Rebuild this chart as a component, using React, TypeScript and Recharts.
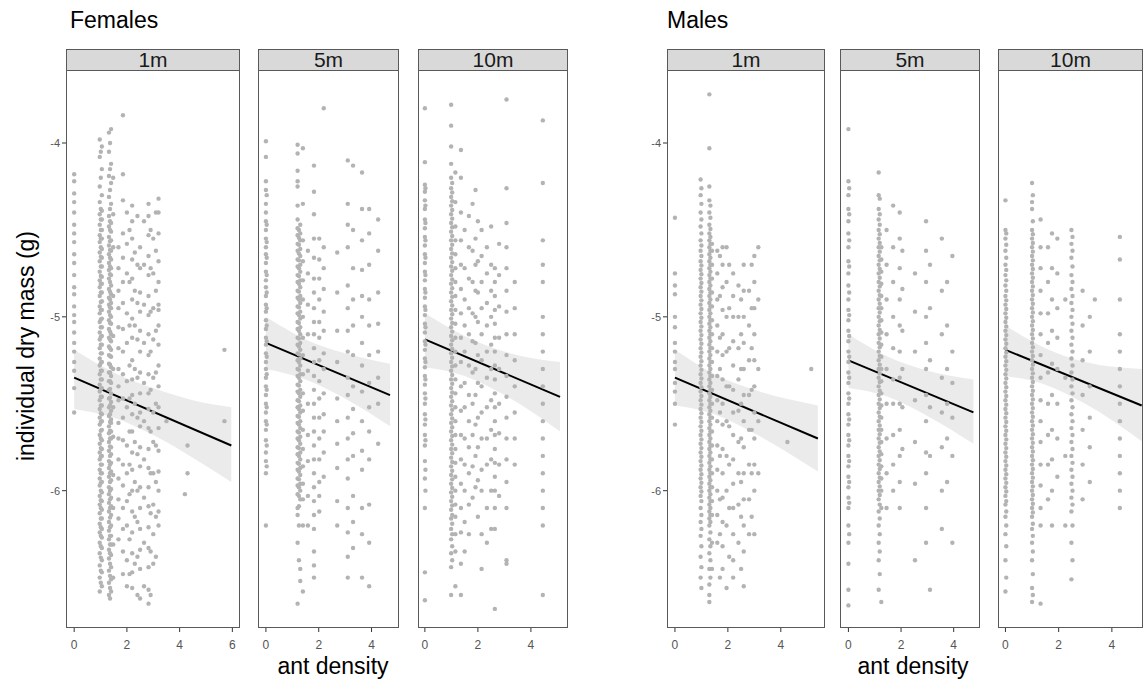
import { ComposedChart, Scatter, Line, Area, XAxis, YAxis } from 'recharts';

type Col = { x: number; y: number[] };

// ant density columns with individual dry mass values
const femalesOneM: Col[] = [
    { x: 0, y: [-4.18, -4.22, -4.29, -4.34, -4.4, -4.47, -4.52, -4.57, -4.64, -4.69, -4.76, -4.83, -4.87, -4.94, -4.99, -5.03, -5.09, -5.15, -5.2, -5.26, -5.31, -5.41, -5.55] },
    { x: 0.97, y: [-3.98, -4.08, -4.25, -4.34, -4.41, -4.47, -4.53, -4.57, -4.63, -4.68, -4.74, -4.79, -4.83, -4.88, -4.94, -4.98, -5.03, -5.09, -5.13, -5.18, -5.24, -5.28, -5.33, -5.39, -5.43, -5.48, -5.53, -5.58, -5.62, -5.68, -5.73, -5.78, -5.82, -5.88, -5.93, -5.97, -6.03, -6.08, -6.13, -6.19, -6.24, -6.3, -6.36, -6.43, -6.5, -6.58] },
    { x: 1.01, y: [-4.05, -4.2, -4.38, -4.44, -4.5, -4.55, -4.6, -4.655, -4.71, -4.765, -4.81, -4.86, -4.915, -4.96, -5.015, -5.06, -5.115, -5.16, -5.21, -5.265, -5.31, -5.36, -5.415, -5.46, -5.51, -5.555, -5.605, -5.655, -5.7, -5.755, -5.805, -5.85, -5.9, -5.955, -6.0, -6.055, -6.1, -6.16, -6.21, -6.26, -6.32, -6.385, -6.46, -6.53] },
    { x: 1.05, y: [-4.02, -4.15, -4.3, -4.39, -4.44, -4.5, -4.55, -4.61, -4.66, -4.71, -4.77, -4.81, -4.86, -4.91, -4.96, -5.01, -5.06, -5.11, -5.16, -5.21, -5.26, -5.31, -5.36, -5.41, -5.46, -5.51, -5.56, -5.6, -5.65, -5.71, -5.76, -5.8, -5.85, -5.9, -5.95, -6.01, -6.06, -6.11, -6.16, -6.22, -6.27, -6.33, -6.4, -6.47, -6.55] },
    { x: 1.32, y: [-3.94, -4.05, -4.19, -4.31, -4.42, -4.48, -4.54, -4.59, -4.64, -4.69, -4.73, -4.78, -4.84, -4.89, -4.93, -4.97, -5.02, -5.07, -5.12, -5.17, -5.22, -5.27, -5.32, -5.37, -5.42, -5.47, -5.52, -5.57, -5.63, -5.67, -5.72, -5.77, -5.83, -5.87, -5.92, -5.98, -6.02, -6.07, -6.12, -6.18, -6.23, -6.28, -6.34, -6.39, -6.46, -6.53, -6.6] },
    { x: 1.36, y: [-4.0, -4.15, -4.27, -4.38, -4.45, -4.5, -4.565, -4.615, -4.66, -4.71, -4.755, -4.8, -4.855, -4.9, -4.945, -4.99, -5.035, -5.085, -5.13, -5.18, -5.225, -5.275, -5.32, -5.37, -5.415, -5.465, -5.51, -5.56, -5.605, -5.655, -5.7, -5.745, -5.8, -5.85, -5.9, -5.95, -6.0, -6.05, -6.1, -6.155, -6.21, -6.26, -6.31, -6.36, -6.42, -6.49, -6.56, -6.62] },
    { x: 1.4, y: [-3.92, -4.12, -4.23, -4.35, -4.46, -4.51, -4.56, -4.62, -4.67, -4.72, -4.76, -4.82, -4.87, -4.92, -4.95, -5.0, -5.04, -5.1, -5.14, -5.19, -5.23, -5.29, -5.34, -5.38, -5.44, -5.49, -5.54, -5.59, -5.61, -5.66, -5.7, -5.75, -5.79, -5.84, -5.89, -5.94, -5.99, -6.04, -6.09, -6.14, -6.2, -6.26, -6.31, -6.37, -6.44, -6.51, -6.58] },
    { x: 1.48, y: [-4.2, -4.41, -4.6, -4.88, -5.11, -5.3, -5.52, -5.69, -5.91, -6.1, -6.31, -6.5] },
    { x: 1.68, y: [-4.6, -4.72, -4.85, -4.95, -5.06, -5.18, -5.3, -5.4, -5.48, -5.61, -5.7, -5.82, -5.93, -6.05, -6.16, -6.28] },
    { x: 1.85, y: [-3.84, -4.18, -4.33, -4.52, -4.66, -4.8, -4.92, -5.07, -5.2, -5.33, -5.47, -5.58, -5.71, -5.85, -5.97, -6.1, -6.22, -6.35, -6.48] },
    { x: 2.0, y: [-4.4, -4.58, -4.75, -4.98, -5.15, -5.37, -5.52, -5.74, -5.9, -6.06, -6.2, -6.4, -6.55] },
    { x: 2.1, y: [-4.5, -4.8, -5.05, -5.28, -5.47, -5.66, -5.85, -6.02, -6.28, -6.48] },
    { x: 2.2, y: [-4.36, -4.45, -4.55, -4.67, -4.78, -4.9, -5.01, -5.12, -5.25, -5.36, -5.45, -5.56, -5.66, -5.78, -5.88, -6.0, -6.12, -6.24, -6.36, -6.47, -6.56] },
    { x: 2.3, y: [-4.63, -4.85, -5.05, -5.3, -5.5, -5.72, -5.95, -6.15, -6.42] },
    { x: 2.4, y: [-4.42, -4.7, -4.92, -5.13, -5.35, -5.58, -5.79, -6.0, -6.18, -6.38, -6.6] },
    { x: 2.5, y: [-4.6, -4.72, -4.86, -4.97, -5.08, -5.2, -5.32, -5.44, -5.55, -5.63, -5.75, -5.86, -5.98, -6.1, -6.22, -6.34, -6.45, -6.62] },
    { x: 2.65, y: [-4.45, -4.7, -4.93, -5.15, -5.38, -5.6, -5.82, -6.04, -6.3, -6.55] },
    { x: 2.82, y: [-4.35, -4.42, -4.53, -4.65, -4.76, -4.88, -4.99, -5.1, -5.22, -5.33, -5.44, -5.53, -5.64, -5.76, -5.87, -5.98, -6.09, -6.21, -6.33, -6.44, -6.57, -6.65] },
    { x: 2.9, y: [-4.5, -4.72, -4.97, -5.2, -5.42, -5.66, -5.9, -6.13, -6.35, -6.6] },
    { x: 3.0, y: [-4.55, -4.75, -4.95, -5.13, -5.35, -5.55, -5.72, -5.9, -6.08, -6.25, -6.42] },
    { x: 3.1, y: [-4.4, -4.62, -4.85, -5.08, -5.32, -5.5, -5.74, -5.95, -6.15, -6.38] },
    { x: 3.2, y: [-4.32, -4.4, -4.52, -4.68, -4.8, -4.93, -4.96, -5.05, -5.16, -5.28, -5.4, -5.52, -5.64, -5.77, -5.89, -6.0, -6.12, -6.2] },
    { x: 3.5, y: [-5.6] },
    { x: 4.2, y: [-6.02] },
    { x: 4.3, y: [-5.74, -5.9] },
    { x: 5.7, y: [-5.19, -5.6] },
];

const femalesFiveM: Col[] = [
    { x: 0, y: [-3.99, -4.08, -4.22, -4.27, -4.35, -4.4, -4.45, -4.5, -4.55, -4.6, -4.64, -4.69, -4.74, -4.79, -4.83, -4.88, -4.93, -4.97, -5.02, -5.07, -5.12, -5.16, -5.21, -5.26, -5.3, -5.35, -5.4, -5.45, -5.5, -5.55, -5.6, -5.65, -5.71, -5.78, -5.83, -5.9, -6.2] },
    { x: 0.03, y: [-4.3, -4.47, -4.57, -4.66, -4.76, -4.86, -4.95, -5.05, -5.14, -5.23, -5.33, -5.42, -5.52, -5.62, -5.74, -5.86] },
    { x: 1.2, y: [-4.01, -4.06, -4.16, -4.22, -4.25, -4.36, -4.44, -4.49, -4.53, -4.58, -4.62, -4.67, -4.71, -4.76, -4.8, -4.85, -4.89, -4.94, -4.98, -5.03, -5.07, -5.12, -5.16, -5.21, -5.25, -5.3, -5.34, -5.39, -5.43, -5.48, -5.52, -5.57, -5.61, -5.66, -5.7, -5.75, -5.79, -5.84, -5.88, -5.93, -5.97, -6.02, -6.1, -6.14, -6.3, -6.65] },
    { x: 1.25, y: [-4.5, -4.545, -4.585, -4.635, -4.675, -4.72, -4.765, -4.81, -4.855, -4.9, -4.945, -4.99, -5.035, -5.08, -5.125, -5.17, -5.215, -5.26, -5.305, -5.35, -5.395, -5.44, -5.485, -5.53, -5.575, -5.62, -5.665, -5.71, -5.755, -5.8, -5.845, -5.89, -5.935, -5.98, -6.03, -6.09, -6.2, -6.4] },
    { x: 1.3, y: [-4.47, -4.52, -4.56, -4.61, -4.65, -4.7, -4.74, -4.79, -4.83, -4.88, -4.92, -4.97, -5.01, -5.06, -5.1, -5.15, -5.19, -5.24, -5.28, -5.33, -5.37, -5.42, -5.46, -5.51, -5.55, -5.6, -5.64, -5.69, -5.73, -5.78, -5.82, -5.87, -5.91, -5.96, -6.0, -6.05, -6.45, -6.52] },
    { x: 1.4, y: [-4.03, -4.35, -4.56, -4.68, -4.79, -4.9, -5.0, -5.12, -5.22, -5.33, -5.44, -5.54, -5.65, -5.76, -5.86, -5.96, -6.05, -6.2, -6.58] },
    { x: 1.59, y: [-4.62, -4.75, -4.93, -5.1, -5.31, -5.5, -5.68, -5.83, -6.03, -6.2] },
    { x: 1.82, y: [-4.13, -4.28, -4.41, -4.55, -4.66, -4.78, -4.86, -4.95, -5.03, -5.1, -5.18, -5.26, -5.34, -5.42, -5.5, -5.58, -5.66, -5.74, -5.82, -5.9, -5.98, -6.06, -6.14, -6.22, -6.35, -6.43, -6.5] },
    { x: 2.02, y: [-4.55, -4.67, -4.78, -4.9, -5.03, -5.12, -5.25, -5.37, -5.47, -5.58, -5.7, -5.82, -5.95, -6.03, -6.12] },
    { x: 2.19, y: [-3.8, -4.6, -4.72, -4.84, -4.97, -5.08, -5.21, -5.3, -5.44, -5.56, -5.66, -5.78, -5.92] },
    { x: 2.7, y: [-4.63, -4.86, -5.08, -5.26, -5.47, -5.6, -5.73, -5.87, -6.06, -6.2] },
    { x: 3.1, y: [-4.1, -4.35, -4.47, -4.6, -4.82, -4.95, -5.08, -5.2, -5.35, -5.45, -5.58, -5.7, -5.82, -5.93, -6.1, -6.24, -6.38, -6.5] },
    { x: 3.3, y: [-4.13, -4.5, -4.72, -4.9, -5.05, -5.22, -5.4, -5.53, -5.67, -5.8, -6.03, -6.18, -6.33] },
    { x: 3.64, y: [-4.17, -4.38, -4.56, -4.73, -4.88, -5.0, -5.15, -5.28, -5.43, -5.6, -5.77, -5.88, -6.1, -6.25, -6.5] },
    { x: 3.91, y: [-4.38, -4.52, -4.7, -4.9, -5.05, -5.22, -5.38, -5.52, -5.66, -5.82, -6.08, -6.3, -6.55] },
    { x: 4.25, y: [-4.44, -4.62, -4.86, -5.04, -5.2, -5.35, -5.5, -5.73] },
];

const femalesTenM: Col[] = [
    { x: 0, y: [-3.8, -4.11, -4.24, -4.28, -4.33, -4.38, -4.44, -4.49, -4.54, -4.59, -4.64, -4.69, -4.74, -4.79, -4.84, -4.89, -4.94, -4.99, -5.04, -5.09, -5.14, -5.19, -5.24, -5.29, -5.34, -5.39, -5.44, -5.5, -5.56, -5.62, -5.68, -5.74, -5.83, -5.93, -6.1, -6.47, -6.63] },
    { x: 0.02, y: [-4.26, -4.36, -4.46, -4.56, -4.66, -4.76, -4.86, -4.96, -5.06, -5.16, -5.26, -5.36, -5.47, -5.59, -5.71, -5.88, -6.0] },
    { x: 0.99, y: [-3.78, -3.9, -4.02, -4.12, -4.2, -4.26, -4.31, -4.36, -4.41, -4.46, -4.51, -4.56, -4.61, -4.66, -4.71, -4.76, -4.81, -4.86, -4.91, -4.96, -5.01, -5.06, -5.11, -5.16, -5.21, -5.26, -5.31, -5.36, -5.41, -5.46, -5.51, -5.56, -5.61, -5.66, -5.71, -5.76, -5.81, -5.86, -5.91, -5.96, -6.01, -6.06, -6.11, -6.16, -6.22, -6.28, -6.36, -6.44, -6.6] },
    { x: 1.03, y: [-4.23, -4.285, -4.335, -4.385, -4.435, -4.485, -4.535, -4.585, -4.635, -4.685, -4.735, -4.785, -4.835, -4.885, -4.935, -4.985, -5.035, -5.085, -5.135, -5.185, -5.235, -5.285, -5.335, -5.385, -5.435, -5.485, -5.535, -5.585, -5.635, -5.685, -5.735, -5.785, -5.835, -5.885, -5.935, -5.985, -6.035, -6.085, -6.14, -6.19, -6.25, -6.32, -6.4] },
    { x: 1.15, y: [-4.17, -4.34, -4.48, -4.56, -4.64, -4.72, -4.8, -4.88, -4.96, -5.04, -5.12, -5.2, -5.28, -5.36, -5.44, -5.52, -5.6, -5.68, -5.76, -5.84, -5.92, -6.0, -6.08, -6.15, -6.25, -6.35, -6.55] },
    { x: 1.36, y: [-4.04, -4.2, -4.4, -4.56, -4.7, -4.84, -4.98, -5.12, -5.26, -5.4, -5.54, -5.68, -5.82, -5.96, -6.1, -6.24, -6.42, -6.6] },
    { x: 1.5, y: [-4.5, -4.72, -4.9, -5.05, -5.2, -5.38, -5.52, -5.7, -5.85, -6.0, -6.18, -6.35] },
    { x: 1.66, y: [-4.42, -4.6, -4.78, -4.95, -5.1, -5.28, -5.45, -5.6, -5.75, -5.9, -6.08, -6.25] },
    { x: 1.8, y: [-4.35, -4.62, -4.8, -4.98, -5.14, -5.32, -5.5, -5.68, -5.86, -6.04] },
    { x: 1.91, y: [-4.27, -4.55, -4.7, -4.85, -5.0, -5.15, -5.3, -5.45, -5.62, -5.8, -5.98] },
    { x: 2.0, y: [-4.45, -4.68, -4.86, -5.03, -5.22, -5.38, -5.58, -5.75, -5.94, -6.15] },
    { x: 2.14, y: [-4.5, -4.65, -4.8, -4.95, -5.1, -5.25, -5.4, -5.55, -5.7, -5.88, -6.0, -6.25, -6.45] },
    { x: 2.34, y: [-4.6, -4.75, -4.92, -5.05, -5.2, -5.35, -5.52, -5.7, -5.85, -6.1, -6.3] },
    { x: 2.5, y: [-4.48, -4.7, -4.85, -5.0, -5.16, -5.3, -5.48, -5.65, -5.82, -6.0, -6.22] },
    { x: 2.64, y: [-4.72, -4.8, -4.88, -4.96, -5.04, -5.12, -5.2, -5.28, -5.36, -5.44, -5.52, -5.6, -5.68, -5.76, -5.84, -5.92, -6.0, -6.1, -6.22, -6.68] },
    { x: 2.8, y: [-4.58, -4.76, -4.94, -5.12, -5.3, -5.5, -5.67, -5.85, -6.03] },
    { x: 3.08, y: [-3.75, -4.26, -4.46, -4.6, -4.72, -4.85, -4.97, -5.1, -5.22, -5.34, -5.46, -5.58, -5.7, -5.82, -5.95, -6.1, -6.4, -6.42] },
    { x: 3.39, y: [-4.8, -4.95, -5.1, -5.25, -5.4, -5.55, -5.7, -5.85] },
    { x: 4.45, y: [-3.87, -4.23, -4.56, -4.7, -4.8, -5.0, -5.1, -5.2, -5.3, -5.4, -5.5, -5.6, -5.7, -5.8, -5.9, -6.0, -6.1, -6.2, -6.6] },
];

const malesOneM: Col[] = [
    { x: 0, y: [-4.43, -4.75, -4.82, -4.87, -5.0, -5.06, -5.15, -5.2, -5.26, -5.3, -5.38, -5.43, -5.5, -5.62] },
    { x: 0.97, y: [-4.21, -4.3, -4.4, -4.48, -4.56, -4.62, -4.68, -4.73, -4.78, -4.83, -4.88, -4.93, -4.98, -5.03, -5.08, -5.13, -5.18, -5.23, -5.28, -5.33, -5.38, -5.43, -5.48, -5.53, -5.58, -5.63, -5.68, -5.73, -5.78, -5.83, -5.88, -5.93, -5.98, -6.03, -6.1, -6.18, -6.26, -6.38, -6.5] },
    { x: 1.0, y: [-4.26, -4.35, -4.44, -4.52, -4.59, -4.65, -4.705, -4.755, -4.805, -4.855, -4.905, -4.955, -5.005, -5.055, -5.105, -5.155, -5.205, -5.255, -5.305, -5.355, -5.405, -5.455, -5.505, -5.555, -5.605, -5.655, -5.705, -5.755, -5.805, -5.855, -5.905, -5.955, -6.005, -6.06, -6.14, -6.22, -6.32, -6.44, -6.56] },
    { x: 1.3, y: [-3.72, -4.03, -4.25, -4.33, -4.4, -4.47, -4.52, -4.56, -4.6, -4.64, -4.68, -4.72, -4.76, -4.8, -4.84, -4.88, -4.92, -4.96, -5.0, -5.04, -5.08, -5.12, -5.16, -5.2, -5.24, -5.28, -5.32, -5.36, -5.4, -5.44, -5.48, -5.52, -5.56, -5.6, -5.64, -5.68, -5.72, -5.76, -5.8, -5.84, -5.88, -5.92, -5.96, -6.0, -6.04, -6.08, -6.12, -6.16, -6.2, -6.28, -6.36, -6.45, -6.54, -6.6, -6.64] },
    { x: 1.34, y: [-4.36, -4.43, -4.495, -4.54, -4.58, -4.62, -4.66, -4.7, -4.74, -4.78, -4.82, -4.86, -4.9, -4.94, -4.98, -5.02, -5.06, -5.1, -5.14, -5.18, -5.22, -5.26, -5.3, -5.34, -5.38, -5.42, -5.46, -5.5, -5.54, -5.58, -5.62, -5.66, -5.7, -5.74, -5.78, -5.82, -5.86, -5.9, -5.94, -5.98, -6.02, -6.06, -6.1, -6.14, -6.18, -6.24, -6.32, -6.4, -6.5] },
    { x: 1.4, y: [-4.58, -4.62, -4.7, -4.78, -4.86, -4.94, -5.02, -5.1, -5.18, -5.26, -5.34, -5.42, -5.5, -5.58, -5.66, -5.74, -5.82, -5.9, -5.98, -6.06, -6.14, -6.3, -6.45] },
    { x: 1.6, y: [-4.62, -4.75, -4.9, -5.05, -5.2, -5.34, -5.48, -5.6, -5.74, -5.88, -6.0, -6.14, -6.3] },
    { x: 1.7, y: [-4.65, -4.88, -5.12, -5.3, -5.55, -5.8, -6.05, -6.25, -6.5] },
    { x: 1.8, y: [-4.6, -4.7, -4.83, -4.96, -5.1, -5.22, -5.36, -5.5, -5.62, -5.76, -5.9, -6.04, -6.18, -6.32, -6.45] },
    { x: 1.95, y: [-4.6, -4.8, -5.0, -5.2, -5.4, -5.6, -5.8, -6.0, -6.2, -6.56] },
    { x: 2.05, y: [-4.7, -4.95, -5.18, -5.4, -5.63, -5.85, -6.1, -6.38] },
    { x: 2.2, y: [-4.75, -4.88, -5.0, -5.14, -5.28, -5.42, -5.55, -5.68, -5.82, -5.96, -6.1, -6.25, -6.4, -6.5] },
    { x: 2.4, y: [-4.82, -5.0, -5.18, -5.36, -5.54, -5.72, -5.9, -6.08, -6.3] },
    { x: 2.5, y: [-4.9, -5.1, -5.3, -5.5, -5.7, -5.95, -6.15, -6.45] },
    { x: 2.6, y: [-4.7, -4.85, -5.0, -5.15, -5.3, -5.45, -5.6, -5.75, -5.9, -6.05, -6.2, -6.35, -6.55] },
    { x: 2.8, y: [-4.85, -5.05, -5.25, -5.45, -5.65, -5.85, -6.05, -6.25] },
    { x: 2.9, y: [-4.7, -4.95, -5.18, -5.42, -5.65, -5.9, -6.15] },
    { x: 3.0, y: [-4.65, -4.8, -4.95, -5.1, -5.25, -5.4, -5.55, -5.7, -5.85, -6.0, -6.25] },
    { x: 3.15, y: [-4.6, -4.9, -5.3, -5.6, -5.9] },
    { x: 4.25, y: [-5.72] },
    { x: 5.15, y: [-5.3] },
];

const malesFiveM: Col[] = [
    { x: 0, y: [-3.92, -4.22, -4.3, -4.38, -4.45, -4.52, -4.6, -4.68, -4.75, -4.82, -4.9, -4.96, -5.02, -5.08, -5.14, -5.2, -5.26, -5.32, -5.38, -5.44, -5.5, -5.56, -5.62, -5.68, -5.74, -5.8, -5.86, -5.92, -5.98, -6.04, -6.1, -6.2, -6.3, -6.42, -6.57, -6.66] },
    { x: 0.03, y: [-4.26, -4.41, -4.56, -4.71, -4.86, -4.99, -5.11, -5.23, -5.35, -5.47, -5.59, -5.71, -5.83, -5.95, -6.07, -6.25] },
    { x: 1.15, y: [-4.17, -4.3, -4.38, -4.44, -4.5, -4.55, -4.6, -4.65, -4.7, -4.75, -4.8, -4.85, -4.9, -4.95, -5.0, -5.05, -5.1, -5.15, -5.2, -5.25, -5.3, -5.35, -5.4, -5.45, -5.5, -5.55, -5.6, -5.65, -5.7, -5.75, -5.8, -5.85, -5.9, -5.95, -6.0, -6.05, -6.12, -6.2, -6.3, -6.4, -6.57] },
    { x: 1.19, y: [-4.32, -4.41, -4.47, -4.525, -4.575, -4.625, -4.675, -4.725, -4.775, -4.825, -4.875, -4.925, -4.975, -5.025, -5.075, -5.125, -5.175, -5.225, -5.275, -5.325, -5.375, -5.425, -5.475, -5.525, -5.575, -5.625, -5.675, -5.725, -5.775, -5.825, -5.875, -5.925, -5.975, -6.025, -6.08, -6.16, -6.25, -6.35, -6.48] },
    { x: 1.25, y: [-4.6, -4.67, -4.74, -4.81, -4.88, -4.95, -5.02, -5.09, -5.16, -5.23, -5.3, -5.37, -5.44, -5.51, -5.58, -5.65, -5.72, -5.79, -5.86, -5.93, -6.0, -6.1, -6.64] },
    { x: 1.45, y: [-4.5, -4.7, -4.9, -5.1, -5.3, -5.5, -5.7, -5.9, -6.1] },
    { x: 1.7, y: [-4.36, -4.6, -4.8, -5.0, -5.18, -5.36, -5.5, -5.68, -5.85, -6.0] },
    { x: 1.95, y: [-4.4, -4.55, -4.72, -4.9, -5.05, -5.2, -5.35, -5.5, -5.65, -5.8, -5.95, -6.1] },
    { x: 2.05, y: [-4.62, -4.84, -5.08, -5.3, -5.52, -5.76] },
    { x: 2.53, y: [-4.75, -4.97, -5.2, -5.48, -5.72, -5.96, -6.4] },
    { x: 2.95, y: [-4.45, -4.62, -4.8, -5.0, -5.15, -5.3, -5.45, -5.6, -5.78, -5.9, -6.1, -6.3] },
    { x: 3.1, y: [-4.7, -4.95, -5.25, -5.52, -5.8, -6.57] },
    { x: 3.55, y: [-4.55, -4.85, -5.1, -5.35, -5.55, -5.75, -6.0, -6.22] },
    { x: 3.75, y: [-4.8, -5.05, -5.3, -5.5, -5.7, -5.95] },
    { x: 3.95, y: [-4.65, -5.2, -5.38, -5.58, -5.8, -6.3] },
];

const malesTenM: Col[] = [
    { x: 0, y: [-4.33, -4.5, -4.55, -4.62, -4.7, -4.76, -4.82, -4.88, -4.93, -4.98, -5.03, -5.08, -5.13, -5.18, -5.23, -5.28, -5.33, -5.38, -5.43, -5.48, -5.53, -5.58, -5.63, -5.68, -5.73, -5.78, -5.83, -5.88, -5.93, -5.98, -6.03, -6.08, -6.15, -6.25, -6.4, -6.58] },
    { x: 0.03, y: [-4.52, -4.585, -4.66, -4.73, -4.79, -4.85, -4.905, -4.955, -5.005, -5.055, -5.105, -5.155, -5.205, -5.255, -5.305, -5.355, -5.405, -5.455, -5.505, -5.555, -5.605, -5.655, -5.705, -5.755, -5.805, -5.855, -5.905, -5.955, -6.005, -6.06, -6.12, -6.2, -6.32, -6.5] },
    { x: 1.0, y: [-4.23, -4.34, -4.38, -4.5, -4.55, -4.6, -4.65, -4.7, -4.75, -4.8, -4.85, -4.9, -4.95, -5.0, -5.05, -5.1, -5.15, -5.2, -5.25, -5.3, -5.35, -5.4, -5.45, -5.5, -5.55, -5.6, -5.65, -5.7, -5.75, -5.8, -5.85, -5.9, -5.95, -6.0, -6.05, -6.1, -6.15, -6.22, -6.3, -6.4, -6.56, -6.64] },
    { x: 1.03, y: [-4.3, -4.45, -4.525, -4.575, -4.625, -4.675, -4.725, -4.775, -4.825, -4.875, -4.925, -4.975, -5.025, -5.075, -5.125, -5.175, -5.225, -5.275, -5.325, -5.375, -5.425, -5.475, -5.525, -5.575, -5.625, -5.675, -5.725, -5.775, -5.825, -5.875, -5.925, -5.975, -6.025, -6.075, -6.125, -6.19, -6.26, -6.35, -6.48, -6.6] },
    { x: 1.32, y: [-4.44, -4.6, -4.72, -4.85, -4.98, -5.1, -5.22, -5.35, -5.48, -5.6, -5.72, -5.85, -5.97, -6.1, -6.2, -6.65] },
    { x: 1.6, y: [-4.6, -4.8, -4.98, -5.15, -5.32, -5.5, -5.68, -5.85, -6.05] },
    { x: 1.75, y: [-4.52, -4.72, -4.9, -5.08, -5.27, -5.45, -5.65, -5.82, -6.0, -6.2] },
    { x: 1.95, y: [-4.55, -4.75, -4.95, -5.12, -5.3, -5.5, -5.7, -5.92] },
    { x: 2.25, y: [-4.9, -5.35, -5.8, -6.2] },
    { x: 2.48, y: [-4.5, -4.58, -4.66, -4.76, -4.84, -4.92, -5.0, -5.08, -5.16, -5.24, -5.32, -5.4, -5.48, -5.56, -5.64, -5.72, -5.8, -5.88, -5.96, -6.04, -6.12, -6.3, -6.51] },
    { x: 2.52, y: [-4.54, -4.62, -4.71, -4.8, -4.88, -4.96, -5.04, -5.12, -5.2, -5.28, -5.36, -5.44, -5.52, -5.6, -5.68, -5.76, -5.84, -5.92, -6.0, -6.08, -6.2, -6.4] },
    { x: 2.9, y: [-4.85, -5.05, -5.25, -5.45, -5.65, -5.85, -6.05] },
    { x: 3.17, y: [-5.0, -5.2, -5.4, -5.58, -5.75, -5.95] },
    { x: 3.36, y: [-4.9] },
    { x: 4.3, y: [-4.54, -4.67, -4.9, -5.1, -5.2, -5.3, -5.4, -5.5, -5.6, -5.7, -5.8, -5.9, -6.0, -6.1] },
];

// fitted lines (start, end) and 95% bands
const femalesOneMFit = [{ x: 0, y: -5.35 }, { x: 5.96, y: -5.74 }];
const femalesFiveMFit = [{ x: 0, y: -5.15 }, { x: 4.7, y: -5.45 }];
const femalesTenMFit = [{ x: 0, y: -5.13 }, { x: 5.1, y: -5.46 }];
const malesOneMFit = [{ x: 0, y: -5.35 }, { x: 5.4, y: -5.7 }];
const malesFiveMFit = [{ x: 0, y: -5.25 }, { x: 4.75, y: -5.55 }];
const malesTenMFit = [{ x: 0, y: -5.19 }, { x: 5.12, y: -5.51 }];

const femalesOneMBand = [
    { x: 0, band: [-5.53, -5.19] }, { x: 1.5, band: [-5.58, -5.32] }, { x: 3, band: [-5.68, -5.41] },
    { x: 4.5, band: [-5.81, -5.48] }, { x: 5.96, band: [-5.95, -5.52] },
];
const femalesFiveMBand = [
    { x: 0, band: [-5.3, -5.0] }, { x: 1.5, band: [-5.36, -5.13] }, { x: 3, band: [-5.47, -5.21] }, { x: 4.7, band: [-5.63, -5.27] },
];
const femalesTenMBand = [
    { x: 0, band: [-5.29, -4.98] }, { x: 1.5, band: [-5.34, -5.11] }, { x: 3, band: [-5.45, -5.2] }, { x: 5.1, band: [-5.66, -5.26] },
];
const malesOneMBand = [
    { x: 0, band: [-5.51, -5.19] }, { x: 1.5, band: [-5.56, -5.33] }, { x: 3, band: [-5.67, -5.42] }, { x: 5.4, band: [-5.89, -5.51] },
];
const malesFiveMBand = [
    { x: 0, band: [-5.41, -5.1] }, { x: 1.5, band: [-5.46, -5.23] }, { x: 3, band: [-5.57, -5.31] }, { x: 4.75, band: [-5.73, -5.36] },
];
const malesTenMBand = [
    { x: 0, band: [-5.34, -5.05] }, { x: 1.5, band: [-5.39, -5.18] }, { x: 3, band: [-5.5, -5.26] }, { x: 5.12, band: [-5.715, -5.3] },
];

const yTicks = [-6, -5, -4];
const yDomain: [number, number] = [-6.79, -3.58];

const PLOT_TOP = 70;
const PLOT_H = 558;
const FONT = '"Liberation Sans", Arial, sans-serif';

const panels = [
    { label: '1m', points: femalesOneM, fit: femalesOneMFit, band: femalesOneMBand, left: 66, right: 240, domain: [-0.31, 6.29], ticks: [0, 2, 4, 6], yAxis: true },
    { label: '5m', points: femalesFiveM, fit: femalesFiveMFit, band: femalesFiveMBand, left: 258, right: 399, domain: [-0.3, 5.04], ticks: [0, 2, 4], yAxis: false },
    { label: '10m', points: femalesTenM, fit: femalesTenMFit, band: femalesTenMBand, left: 418, right: 568, domain: [-0.26, 5.4], ticks: [0, 2, 4], yAxis: false },
    { label: '1m', points: malesOneM, fit: malesOneMFit, band: malesOneMBand, left: 667, right: 825, domain: [-0.3, 5.67], ticks: [0, 2, 4], yAxis: true },
    { label: '5m', points: malesFiveM, fit: malesFiveMFit, band: malesFiveMBand, left: 840, right: 980, domain: [-0.32, 5.0], ticks: [0, 2, 4], yAxis: false },
    { label: '10m', points: malesTenM, fit: malesTenMFit, band: malesTenMBand, left: 998, right: 1143, domain: [-0.28, 5.17], ticks: [0, 2, 4], yAxis: false },
];

const Dot = (props: any) => <circle cx={props.cx} cy={props.cy} r={2.2} fill="#b3b3b3" />;

function Panel({ p }: { p: any }) {
    const axisW = p.yAxis ? 40 : 0;
    const pts = p.points.flatMap((c: Col) => c.y.map((y) => ({ x: c.x, y })));
    const w = p.right - p.left;
    return (
        <>
            <div style={{ position: 'absolute', left: p.left - axisW, top: PLOT_TOP }}>
                <ComposedChart width={w + axisW} height={PLOT_H + 30} margin={{ top: 0, right: 0, bottom: 0, left: 0 }}>
                    <XAxis
                        type="number"
                        dataKey="x"
                        domain={p.domain}
                        ticks={p.ticks}
                        interval={0}
                        allowDataOverflow
                        height={30}
                        axisLine={false}
                        tickSize={4}
                        tickMargin={8}
                        tick={{ fill: '#555', fontSize: 12, fontFamily: FONT }}
                        tickLine={{ stroke: '#333' }}
                    />
                    <YAxis
                        type="number"
                        dataKey="y"
                        domain={yDomain}
                        ticks={yTicks}
                        allowDataOverflow
                        hide={!p.yAxis}
                        width={axisW}
                        axisLine={false}
                        tickSize={4}
                        tickMargin={2}
                        tick={{ fill: '#555', fontSize: 11, fontFamily: FONT }}
                        tickLine={{ stroke: '#333' }}
                    />
                    <Scatter data={pts} shape={Dot} isAnimationActive={false} />
                    <Area data={p.band} dataKey="band" type="monotone" stroke="none" fill="#999999" fillOpacity={0.2} isAnimationActive={false} />
                    <Line data={p.fit} dataKey="y" type="linear" stroke="#000" strokeWidth={2} dot={false} isAnimationActive={false} />
                </ComposedChart>
            </div>
            <div style={{ position: 'absolute', left: p.left, top: PLOT_TOP, width: w, height: PLOT_H, border: '1px solid #595959', boxSizing: 'border-box', pointerEvents: 'none' }} />
            <div style={{ position: 'absolute', left: p.left, top: 49, width: w, height: 22, background: '#d9d9d9', border: '1px solid #595959', boxSizing: 'border-box', textAlign: 'center', fontFamily: FONT, fontSize: 21, lineHeight: '20px', color: '#1a1a1a' }}>
                {p.label}
            </div>
        </>
    );
}

export default function App() {
    const text = { position: 'absolute' as const, fontFamily: FONT, color: '#000', whiteSpace: 'nowrap' as const };
    return (
        <div style={{ position: 'absolute', left: 0, top: 0, width: 1145, height: 679, background: '#fff', overflow: 'hidden' }}>
            <div style={{ ...text, left: 70, top: 9, fontSize: 23, lineHeight: '23px' }}>Females</div>
            <div style={{ ...text, left: 667, top: 9, fontSize: 23, lineHeight: '23px' }}>Males</div>
            <div style={{ ...text, left: 26, top: 346, fontSize: 23, lineHeight: '23px', transform: 'translate(-50%, -50%) rotate(-90deg)' }}>
                individual dry mass (g)
            </div>
            <div style={{ ...text, left: 333, top: 655, fontSize: 23, lineHeight: '23px', transform: 'translateX(-50%)' }}>ant density</div>
            <div style={{ ...text, left: 913, top: 655, fontSize: 23, lineHeight: '23px', transform: 'translateX(-50%)' }}>ant density</div>
            {panels.map((p, i) => (
                <Panel key={i} p={p} />
            ))}
        </div>
    );
}
